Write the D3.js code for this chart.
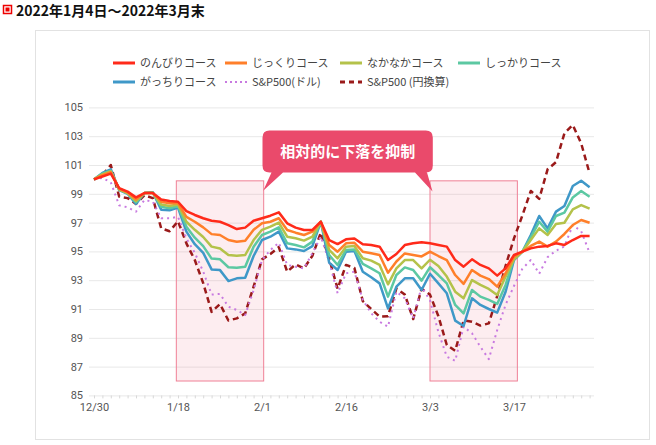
<!DOCTYPE html>
<html><head><meta charset="utf-8">
<script src="https://cdn.jsdelivr.net/npm/d3@7"></script>
<style>
html,body{margin:0;padding:0;background:#fff;}
svg{display:block;}
</style></head>
<body>
<svg id="chart" width="656" height="445"></svg>
<script>
// ---- data ----
const dates = ["12/30","1/4","1/5","1/6","1/7","1/11","1/12","1/13","1/14","1/17",
"1/18","1/19","1/20","1/21","1/24","1/25","1/26","1/27","1/28","1/31",
"2/1","2/2","2/3","2/4","2/7","2/8","2/9","2/10","2/14","2/15",
"2/16","2/17","2/18","2/21","2/22","2/24","2/25","2/28","3/1","3/2",
"3/3","3/4","3/7","3/8","3/9","3/10","3/11","3/14","3/15","3/16",
"3/17","3/18","3/22","3/23","3/24","3/25","3/28","3/29","3/30","3/31"];
const xTickLabels = ["12/30","1/18","2/1","2/16","3/3","3/17"];
const yTicks = [85,87,89,91,93,95,97,99,101,103,105];

const nonbiri = [100,100.2,100.4,99.4,99.15,98.75,99.05,99.05,98.6,98.5,
98.45,97.8,97.53,97.3,97.13,97.06,96.83,96.55,96.65,97.13,
97.3,97.48,97.71,96.95,96.65,96.49,96.49,97.06,95.79,95.51,
95.84,95.9,95.49,95.44,95.33,94.4,94.82,95.44,95.56,95.64,
95.56,95.45,95.33,94.4,93.94,94.45,94.06,93.82,93.32,93.82,
94.75,94.98,95.21,95.33,95.38,95.56,95.45,95.79,96.07,96.07];
const jikkuri = [100,100.3,100.5,99.35,99.1,98.6,99.05,99.05,98.45,98.35,
98.35,97.4,97.06,96.67,96.2,96.14,95.79,95.67,95.74,96.5,
96.95,97.06,97.3,96.49,96.3,96.14,96.37,97.06,95.44,94.98,
95.56,95.6,94.98,94.87,94.75,93.52,94.3,94.86,94.75,94.65,
94.98,94.68,94.4,93.36,92.74,93.71,93.32,93.08,92.55,93.48,
94.63,94.98,95.38,95.68,95.33,95.68,96.21,96.83,97.18,96.99];
const nakanaka = [100,100.35,100.55,99.3,99.05,98.5,99.05,99.05,98.25,98.15,
98.25,97.06,96.5,96.0,95.33,95.2,94.75,94.7,94.75,95.79,
96.5,96.72,97.0,96.02,95.91,95.75,96.02,97.06,95.1,94.52,
95.33,95.37,94.52,94.36,94.06,92.71,93.82,94.4,94.4,93.82,
94.42,93.99,93.25,92.2,91.74,93.01,92.67,92.39,91.97,93.25,
94.45,94.98,95.79,96.6,96.14,96.9,96.99,97.92,98.22,97.97];
const shikkari = [100,100.4,100.6,99.3,99.05,98.4,99.05,99.1,98.1,98.0,
98.15,96.72,95.95,95.37,94.5,94.45,93.9,93.87,93.94,95.33,
96.14,96.37,96.67,95.56,95.44,95.28,95.68,97.06,94.75,94.06,
95.1,95.14,94.13,93.82,93.48,91.86,93.36,93.89,93.71,92.97,
93.9,93.36,92.78,91.28,90.7,92.32,91.86,91.63,91.35,92.67,
94.52,94.98,95.98,97.06,96.37,97.46,97.69,98.75,99.19,98.8];
const gacchiri = [100,100.45,100.7,99.25,99.0,98.3,99.05,99.1,97.9,97.85,
98.05,96.37,95.5,94.9,93.75,93.7,92.94,93.13,93.17,94.68,
95.79,96.02,96.37,95.21,95.14,95.03,95.37,97.06,94.22,93.71,
94.98,95.03,93.59,93.2,92.78,91.04,92.55,93.13,93.13,92.32,
93.45,92.78,92.09,90.19,89.82,91.74,91.28,91.0,90.75,92.2,
94.4,94.98,96.14,97.46,96.6,97.76,98.15,99.54,99.91,99.45];
const sp500usd = [100,100.1,99.8,98.2,98.06,97.76,98.57,98.45,97.3,97.3,
97.4,95.9,94.9,93.6,92.0,92.05,91.16,90.93,90.58,92.3,
94.4,95.1,95.6,94.06,93.94,93.82,94.87,96.02,94.29,92.09,
93.48,93.59,91.63,90.7,90.12,89.77,92.2,91.74,90.35,92.55,
91.6,89.4,87.69,87.4,89.77,89.31,88.38,87.52,89.54,91.3,
92.6,93.8,94.4,93.45,94.6,95.05,95.35,96.83,96.4,94.9];
const sp500jpy = [100,100.3,101.0,98.8,98.7,98.3,98.9,98.7,96.6,96.4,
97.1,95.56,94.4,92.8,90.8,91.35,90.2,90.35,90.7,92.55,
94.45,94.82,95.3,93.59,94.1,93.82,94.7,96.3,94.5,92.4,
94.06,93.85,91.55,91.0,90.47,90.5,92.43,92.0,90.3,92.4,
92.0,90.5,88.5,88.1,90.2,90.12,89.85,90.0,91.9,94.0,
95.9,97.5,99.2,98.65,100.7,101.2,103.2,103.78,102.5,100.42];

const seriesNames = ["のんびりコース","じっくりコース","なかなかコース","しっかりコース","がっちりコース","S&P500(ドル)","S&P500 (円換算)"];
const seriesValues = [nonbiri, jikkuri, nakanaka, shikkari, gacchiri, sp500usd, sp500jpy];
const seriesColors = ["#ff2a1a","#ff7f2a","#b4c24a","#5cc8a2","#3f98c8","#c87ae0","#9a1a1a"];
const seriesDash = [null,null,null,null,null,"2,4","6,4"];

const highlightRanges = [[9.8,20.2],[40.0,50.4]]; // index ranges
const highlightValueRange = [86.0, 99.9];
const titleText = "2022年1月4日～2022年3月末";
const calloutText = "相対的に下落を抑制";

// ---- drawing ----
const svg = d3.select("#chart");
const FONT = "'Noto Sans CJK JP','Noto Sans',sans-serif";

// title
svg.append("rect").attr("x",3.5).attr("y",5.5).attr("width",8).attr("height",8)
  .attr("fill","#fff").attr("stroke","#e00").attr("stroke-width",1.5);
svg.append("rect").attr("x",5.5).attr("y",7.5).attr("width",4).attr("height",4).attr("fill","#e00");
svg.append("text").attr("x",16).attr("y",16).text(titleText)
  .attr("font-family",FONT).attr("font-weight","bold").attr("font-size",14).attr("fill","#111");

// card
svg.append("rect").attr("x",35.5).attr("y",30.5).attr("width",614).attr("height",409)
  .attr("fill","#fff").attr("stroke","#e2e2e2");

const x = d3.scaleLinear().domain([0, dates.length-1]).range([94, 589.6]);
const y = d3.scaleLinear().domain([85,105]).range([395.4, 107.4]);

// y axis with gridlines
const yAxis = svg.append("g").attr("transform","translate(89,0)")
  .call(d3.axisLeft(y).tickValues(yTicks).tickSizeInner(-(594-89)).tickSizeOuter(0).tickPadding(6));
yAxis.select(".domain").remove();
yAxis.selectAll("line").attr("stroke","#e8e8e8").attr("stroke-width",1);
yAxis.selectAll("text").attr("font-family","Roboto,'Noto Sans',sans-serif").attr("font-size",11).attr("fill","#555");

// x axis
const xAxis = svg.append("g").attr("transform","translate(0,395.4)")
  .call(d3.axisBottom(x).tickValues(d3.range(dates.length)).tickSize(3).tickPadding(5)
    .tickFormat(i => xTickLabels.includes(dates[i]) ? dates[i] : ""));
xAxis.select(".domain").remove();
xAxis.selectAll("line").attr("stroke","#d8d8d8");
xAxis.selectAll("text").attr("font-family","Roboto,'Noto Sans',sans-serif").attr("font-size",11).attr("fill","#555");

// highlight boxes
highlightRanges.forEach(r => {
  svg.append("rect")
    .attr("x", x(r[0])).attr("width", x(r[1]) - x(r[0]))
    .attr("y", y(highlightValueRange[1])).attr("height", y(highlightValueRange[0]) - y(highlightValueRange[1]))
    .attr("fill","rgba(240,90,120,0.11)").attr("stroke","#ef8096").attr("stroke-width",1);
});

// lines (draw last series first so first is on top)
const line = d3.line().x((d,i)=>x(i)).y(d=>y(d));
for (let k = seriesValues.length-1; k >= 0; k--) {
  const p = svg.append("path").datum(seriesValues[k]).attr("d", line)
    .attr("fill","none").attr("stroke", seriesColors[k])
    .attr("stroke-width", k===5 ? 2 : 2.5).attr("stroke-linejoin","round");
  if (seriesDash[k]) p.attr("stroke-dasharray", seriesDash[k]);
}

// legend
const legendPos = [[113,63],[225,63],[340,63],[458,63],[113,82],[225,82],[340,82]];
seriesNames.forEach((name,k) => {
  const [lx,ly] = legendPos[k];
  const l = svg.append("line").attr("x1",lx).attr("x2",lx+22).attr("y1",ly).attr("y2",ly)
    .attr("stroke",seriesColors[k]).attr("stroke-width", k===5?2:3);
  if (seriesDash[k]) l.attr("stroke-dasharray", k===5 ? "2,3" : "5,4");
  svg.append("text").attr("x",lx+27).attr("y",ly+4).text(name)
    .attr("font-family",FONT).attr("font-size",11).attr("fill","#444");
});

// callout
const cx0 = 262.5, cx1 = 432.8, cy0 = 130.5, cy1 = 172.5, rr = 7;
const tipL = [x(highlightRanges[0][1]) - 0.5, 190.7];
const tipR = [x(highlightRanges[1][0]) + 2.5, 191.5];
const cp = d3.path();
cp.moveTo(cx0+rr, cy0);
cp.lineTo(cx1-rr, cy0); cp.quadraticCurveTo(cx1, cy0, cx1, cy0+rr);
cp.lineTo(cx1, cy1-rr); cp.quadraticCurveTo(cx1, cy1, cx1-rr, cy1);
cp.lineTo(427, cy1); cp.lineTo(tipR[0], tipR[1]); cp.lineTo(415, cy1);
cp.lineTo(283, cy1); cp.lineTo(tipL[0], tipL[1]); cp.lineTo(271.5, cy1);
cp.lineTo(cx0+rr, cy1); cp.quadraticCurveTo(cx0, cy1, cx0, cy1-rr);
cp.lineTo(cx0, cy0+rr); cp.quadraticCurveTo(cx0, cy0, cx0+rr, cy0);
cp.closePath();
svg.append("path").attr("d", cp.toString()).attr("fill","#ea4a6b");
svg.append("text").attr("x",(cx0+cx1)/2).attr("y",157).attr("text-anchor","middle")
  .text(calloutText).attr("font-family",FONT).attr("font-weight","bold")
  .attr("font-size",15).attr("fill","#fff");
</script>
</body></html>
